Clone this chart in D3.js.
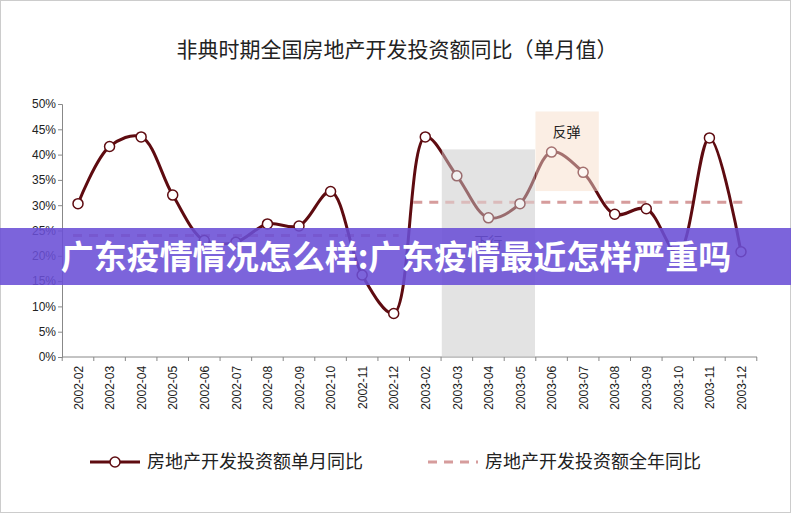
<!DOCTYPE html>
<html><head><meta charset="utf-8">
<script src="https://cdn.jsdelivr.net/npm/d3@7"></script>
<style>body{margin:0;background:#fff}svg{font-family:"Noto Sans CJK SC","Liberation Sans",sans-serif}</style>
</head><body><svg id="c" width="791" height="513"></svg>
<script>
// data
var months = ["2002-02","2002-03","2002-04","2002-05","2002-06","2002-07","2002-08","2002-09","2002-10","2002-11","2002-12",
  "2003-02","2003-03","2003-04","2003-05","2003-06","2003-07","2003-08","2003-09","2003-10","2003-11","2003-12"];
var monthly = [30.3,41.6,43.5,32.0,23.0,22.7,26.3,25.9,32.7,16.2,8.6,43.5,35.8,27.5,30.3,40.5,36.5,28.2,29.3,20.5,43.3,20.8];
var yearly2002 = 24.0, yearly2003 = 30.6;
var yTicks = [0,5,10,15,20,25,30,35,40,45,50];

var svg = d3.select("#c");
svg.append("rect").attr("x",0.5).attr("y",0.5).attr("width",790).attr("height",512).attr("fill","none").attr("stroke","#ccc");
svg.append("text").attr("x",397).attr("y",57).attr("text-anchor","middle").attr("font-size",21).attr("fill","#222")
  .text("非典时期全国房地产开发投资额同比（单月值）");

var x = d3.scalePoint().domain(months).range([78,741]);
var y = d3.scaleLinear().domain([0,50]).range([357,104]);
var step = x.step();

// highlight regions
var gray = {x: x("2003-03")-15, y: y(41), w: x("2003-05")-x("2003-03")+30, h: y(0)-y(41)};
var peach = {x: x("2003-06")-16, y: y(48.5), w: step*2, h: y(32.8)-y(48.5)};
svg.append("rect").attr("x",gray.x).attr("y",gray.y).attr("width",gray.w).attr("height",gray.h).attr("fill","#e3e3e3");
svg.append("rect").attr("x",peach.x).attr("y",peach.y).attr("width",peach.w).attr("height",peach.h).attr("fill","#fbeee4");

// axes
svg.append("g").attr("transform","translate(62,0)")
  .call(d3.axisLeft(y).tickValues(yTicks).tickFormat(function(d){return d+"%";}).tickSize(4))
  .call(function(g){g.selectAll("text").attr("font-size",12).attr("fill","#222").attr("x",-6);g.selectAll("line,path").attr("stroke","#888");});
svg.append("g").attr("transform","translate(0,357)")
  .call(d3.axisBottom(x).tickSize(0).tickPadding(6))
  .call(function(g){
    g.select("path").attr("d","M62,0H757").attr("stroke","#888");
    g.selectAll("text").attr("font-size",12).attr("fill","#222")
      .attr("transform","rotate(-90)").attr("text-anchor","end").attr("dx","-0.4em").attr("dy","0.35em").attr("x",-4).attr("y",0);
  });
months.forEach(function(m){
  svg.append("line").attr("x1",x(m)+step/2).attr("x2",x(m)+step/2).attr("y1",357).attr("y2",361).attr("stroke","#888");
});
svg.append("line").attr("x1",x(months[0])-step/2).attr("x2",x(months[0])-step/2).attr("y1",357).attr("y2",361).attr("stroke","#888");

// yearly dashed
var dash = "#d69c9c";
svg.append("line").attr("x1",x("2002-02")-5).attr("x2",x("2002-12")+5).attr("y1",y(yearly2002)).attr("y2",y(yearly2002))
  .attr("stroke",dash).attr("stroke-width",3).attr("stroke-dasharray","9,7");
svg.append("line").attr("x1",x("2003-02")-12).attr("x2",x("2003-12")+5).attr("y1",y(yearly2003)).attr("y2",y(yearly2003))
  .attr("stroke",dash).attr("stroke-width",3).attr("stroke-dasharray","9,7");

// monthly line
var line = d3.line().x(function(d,i){return x(months[i]);}).y(function(d){return y(d);}).curve(d3.curveCatmullRom.alpha(0.5));
svg.append("path").datum(monthly).attr("d",line).attr("fill","none").attr("stroke","#5e0b10").attr("stroke-width",3);
svg.selectAll("circle.p").data(monthly).enter().append("circle").attr("class","p")
  .attr("cx",function(d,i){return x(months[i]);}).attr("cy",function(d){return y(d);}).attr("r",5)
  .attr("fill","#fff").attr("stroke","#5e0b10").attr("stroke-width",1.5);

// translucent overlays for highlight regions over line
svg.append("rect").attr("x",gray.x).attr("y",gray.y).attr("width",gray.w).attr("height",gray.h).attr("fill","#e3e3e3").attr("opacity",0.45);
svg.append("rect").attr("x",peach.x).attr("y",peach.y).attr("width",peach.w).attr("height",peach.h).attr("fill","#fbeee4").attr("opacity",0.45);
svg.append("text").attr("x",x("2003-06")+15).attr("y",137).attr("text-anchor","middle").attr("font-size",14).attr("fill","#222").text("反弹");
svg.append("text").attr("x",x("2003-04")).attr("y",247).attr("text-anchor","middle").attr("font-size",14).attr("fill","#222").text("下行");

// legend
var lg = svg.append("g").attr("transform","translate(0,462)");
lg.append("line").attr("x1",90).attr("x2",140).attr("stroke","#5e0b10").attr("stroke-width",3);
lg.append("circle").attr("cx",115).attr("r",5).attr("fill","#fff").attr("stroke","#5e0b10").attr("stroke-width",1.5);
lg.append("text").attr("x",147).attr("y",6).attr("font-size",18).attr("fill","#222").text("房地产开发投资额单月同比");
lg.append("line").attr("x1",428).attr("x2",478).attr("stroke",dash).attr("stroke-width",3).attr("stroke-dasharray","9,7");
lg.append("text").attr("x",485).attr("y",6).attr("font-size",18).attr("fill","#222").text("房地产开发投资额全年同比");

// banner overlay
svg.append("rect").attr("x",0).attr("y",228).attr("width",791).attr("height",57).attr("fill","#6a4fd6").attr("opacity",0.88);
svg.append("text").attr("x",396).attr("y",269).attr("text-anchor","middle").attr("font-size",33).attr("font-weight","bold")
  .attr("fill","#fff").text("广东疫情情况怎么样:广东疫情最近怎样严重吗");
</script></body></html>
